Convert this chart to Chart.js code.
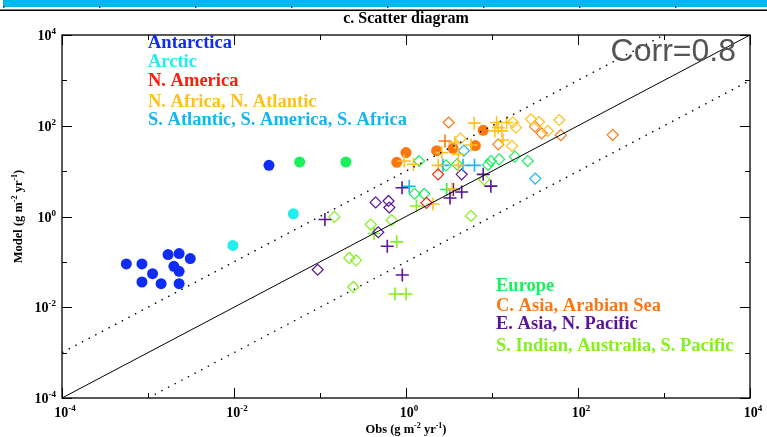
<!DOCTYPE html>
<html>
<head>
<meta charset="utf-8">
<script src="https://cdn.jsdelivr.net/npm/chart.js@4.4.1/dist/chart.umd.min.js"></script>
<style>
  html, body { margin: 0; padding: 0; background: #fff; }
  #wrap { position: relative; width: 767px; height: 437px; }
</style>
</head>
<body>
<div id="wrap"><canvas id="scatter" width="767" height="437"></canvas></div>
<script>
// each point: [obs, model, marker]   marker: o = filled circle, d = open diamond, p = plus
const antarctica = [
  [5.6e-4, 0.090, 'o'], [8.5e-4, 0.090, 'o'], [1.13e-3, 0.055, 'o'], [8.5e-4, 0.036, 'o'],
  [1.42e-3, 0.033, 'o'], [1.71e-3, 0.145, 'o'], [2.3e-3, 0.152, 'o'], [3.1e-3, 0.118, 'o'],
  [2.0e-3, 0.080, 'o'], [2.3e-3, 0.062, 'o'], [2.3e-3, 0.033, 'o'], [0.0255, 13.4, 'o']
];
const arctic = [[9.7e-3, 0.23, 'o'], [0.049, 1.15, 'o']];
const nAmerica = [[2.36, 8.5, 'd'], [1.73, 2.0, 'd']];
const nAfrica = [
  [4.3, 52, 'd'], [17.5, 119, 'd'], [19, 91, 'd'], [17.1, 36, 'd'], [28.4, 139, 'd'],
  [35.2, 121, 'd'], [44.4, 77, 'd'], [60.6, 134, 'd'],
  [6.2, 114, 'p'], [11.3, 118, 'p'], [11.8, 91, 'p'], [10.8, 77, 'p'], [13, 77, 'p'],
  [14.8, 118, 'p'], [13.4, 48.5, 'p'], [3.7, 42.5, 'p'], [5.7, 37.6, 'p'], [2.6, 25.6, 'p'],
  [4.06, 23.4, 'p'], [0.955, 16.7, 'p'], [1.22, 14.1, 'p'], [2.37, 13.4, 'p'], [4.06, 13.4, 'p'],
  [2.06, 1.89, 'p'], [3.43, 4.05, 'p']
];
const sAtlantic = [
  [4.7, 28.3, 'd'], [31.8, 6.85, 'd'],
  [1.09, 4.65, 'p'], [2.69, 13.4, 'p'], [4.6, 13.4, 'p'], [6.26, 13.4, 'p']
];
const europe = [
  [0.058, 15.9, 'o'], [0.2, 15.9, 'o'],
  [1.42, 16.7, 'd'], [2.92, 13.4, 'd'], [3.92, 14.1, 'd'], [9.0, 13.7, 'd'], [9.7, 16.7, 'd'],
  [12.1, 18.2, 'd'], [18.4, 20.9, 'd'], [26, 16.7, 'd'], [1.26, 3.17, 'd'], [1.63, 3.14, 'd'],
  [2.97, 3.95, 'p']
];
const cAsia = [
  [1.0, 25.6, 'o'], [0.78, 15.6, 'o'], [2.27, 28.3, 'o'], [3.52, 31.8, 'o'], [6.4, 36.5, 'o'],
  [7.9, 79.5, 'o'],
  [3.14, 118, 'd'], [11.8, 39, 'd'], [31.6, 96, 'd'], [37.8, 68, 'd'], [63, 62, 'd'], [253, 63, 'd'],
  [2.84, 46, 'p']
];
const eAsia = [
  [4.44, 8.5, 'd'], [0.444, 2.04, 'd'], [0.626, 2.2, 'd'], [0.64, 1.58, 'd'], [0.476, 0.45, 'd'],
  [0.094, 0.067, 'd'],
  [7.9, 8.5, 'p'], [9.7, 4.67, 'p'], [0.9, 4.31, 'p'], [3.55, 3.95, 'p'], [4.44, 3.48, 'p'],
  [3.25, 2.56, 'p'], [0.114, 0.86, 'p'], [0.606, 0.221, 'p'], [0.906, 0.0515, 'p']
];
const sIndian = [
  [8.1, 6.57, 'd'], [5.7, 1.03, 'd'], [0.147, 0.98, 'd'], [0.389, 0.665, 'd'], [0.682, 0.83, 'd'],
  [0.219, 0.122, 'd'], [0.262, 0.108, 'd'], [0.244, 0.028, 'd'],
  [1.32, 1.71, 'p'], [0.425, 0.421, 'p'], [0.78, 0.276, 'p'], [0.745, 0.0196, 'p'], [1.0, 0.0196, 'p']
];

const regionNames = ['Antarctica', 'Arctic', 'N. America', 'N. Africa, N. Atlantic',
  'S. Atlantic, S. America, S. Africa', 'Europe', 'C. Asia, Arabian Sea',
  'E. Asia, N. Pacific', 'S. Indian, Australia, S. Pacific'];
const regionColors = ['#0f2cf5', '#22eeee', '#f5200f', '#ffc21a', '#18b4f0',
  '#19f05a', '#fa7814', '#5a1496', '#84f01e'];
const regionPoints = [antarctica, arctic, nAmerica, nAfrica, sAtlantic, europe, cAsia, eAsia, sIndian];

// reference lines 1:1 and factor 10
const oneToOne = [[1e-4, 1e-4], [1e4, 1e4]];
const tenAbove = [[1e-4, 1e-3], [1e3, 1e4]];
const tenBelow = [[1e-3, 1e-4], [1e4, 1e3]];

const majorExp = [-4, -2, 0, 2, 4];
const minorExp = [-3, -1, 1, 3];
const corrText = 'Corr=0.8';

const SERIF = '"Liberation Serif", "Times New Roman", serif';
const styleOf = { o: 'circle', d: 'rectRot', p: 'cross' };
const radiusOf = { o: 5.5, d: 5.5, p: 6.5 };

const pointSets = regionPoints.map((pts, i) => ({
  type: 'scatter',
  label: regionNames[i],
  data: pts.map(p => ({ x: p[0], y: p[1] })),
  pointStyle: pts.map(p => styleOf[p[2]]),
  pointRadius: pts.map(p => radiusOf[p[2]]),
  pointBackgroundColor: pts.map(p => p[2] === 'o' ? regionColors[i] : 'rgba(0,0,0,0)'),
  pointBorderColor: regionColors[i],
  pointBorderWidth: pts.map(p => p[2] === 'p' ? 1.6 : (p[2] === 'o' ? 0 : 1.2)),
  showLine: false
}));

const lineSet = (pts, dash) => ({
  type: 'line',
  data: pts.map(p => ({ x: p[0], y: p[1] })),
  borderColor: '#000',
  borderWidth: dash.length ? 1.4 : 1,
  borderDash: dash,
  pointRadius: 0,
  fill: false
});

// superscript writer: parts = [[text, isSup], ...]
function drawParts(ctx, parts, x, y, size, align) {
  const big = `bold ${size}px ${SERIF}`;
  const small = `bold ${Math.round(size * 0.62)}px ${SERIF}`;
  let w = 0;
  parts.forEach(([t, sup]) => { ctx.font = sup ? small : big; w += ctx.measureText(t).width; });
  let cx = align === 'center' ? x - w / 2 : (align === 'right' ? x - w : x);
  ctx.textAlign = 'left';
  parts.forEach(([t, sup]) => {
    ctx.font = sup ? small : big;
    ctx.fillText(t, cx, sup ? y - size * 0.42 : y);
    cx += ctx.measureText(t).width;
  });
}

const decor = {
  id: 'decor',
  afterDraw(chart) {
    const { ctx, chartArea: a, scales: { x, y } } = chart;
    ctx.save();
    // strip left over from the panel above
    ctx.fillStyle = '#00b9f2';
    ctx.fillRect(3, 0, 764, 7);
    ctx.fillStyle = '#444';
    for (let i = 0; i < 8; i++) ctx.fillRect(3 + i * 96, 6, 1.5, 2);
    ctx.fillStyle = '#000';
    ctx.fillRect(0, 9.5, 767, 1.5);

    ctx.fillStyle = '#000';
    ctx.textBaseline = 'alphabetic';
    ctx.textAlign = 'center';
    ctx.font = `bold 16px ${SERIF}`;
    ctx.fillText('c. Scatter diagram', (a.left + a.right) / 2, 23);

    // frame
    ctx.strokeStyle = '#000';
    ctx.lineWidth = 1.3;
    ctx.strokeRect(a.left, a.top, a.right - a.left, a.bottom - a.top);

    // ticks on all four sides
    ctx.lineWidth = 1;
    ctx.beginPath();
    const tick = (e, len) => {
      const px = Math.round(x.getPixelForValue(10 ** e)) + 0.5;
      const py = Math.round(y.getPixelForValue(10 ** e)) + 0.5;
      ctx.moveTo(px, a.bottom); ctx.lineTo(px, a.bottom - len);
      ctx.moveTo(px, a.top); ctx.lineTo(px, a.top + len);
      ctx.moveTo(a.left, py); ctx.lineTo(a.left + len, py);
      ctx.moveTo(a.right, py); ctx.lineTo(a.right - len, py);
    };
    majorExp.forEach(e => tick(e, 10));
    minorExp.forEach(e => tick(e, 5));
    ctx.stroke();

    // tick labels
    majorExp.forEach(e => {
      const parts = [['10', false], [String(e), true]];
      drawParts(ctx, parts, x.getPixelForValue(10 ** e) + 3, a.bottom + 19, 14, 'center');
      drawParts(ctx, parts, a.left - 6, y.getPixelForValue(10 ** e) + 5, 14, 'right');
    });

    // axis titles
    drawParts(ctx, [['Obs (g m', false], ['-2', true], [' yr', false], ['-1', true], [')', false]],
      (a.left + a.right) / 2, 433, 12.5, 'center');
    ctx.save();
    ctx.translate(22, (a.top + a.bottom) / 2);
    ctx.rotate(-Math.PI / 2);
    drawParts(ctx, [['Model (g m', false], ['-2', true], [' yr', false], ['-1', true], [')', false]],
      0, 0, 12.5, 'center');
    ctx.restore();

    // region labels
    ctx.textAlign = 'left';
    ctx.font = `bold 18.5px ${SERIF}`;
    const topRows = [48, 67, 86, 107, 125];
    const lowRows = [291, 311, 329, 351];
    regionNames.forEach((name, i) => {
      ctx.fillStyle = regionColors[i];
      if (i < 5) ctx.fillText(name, 148, topRows[i]);
      else ctx.fillText(name, 496, lowRows[i - 5]);
    });

    ctx.fillStyle = '#555';
    ctx.textAlign = 'right';
    ctx.font = `32px "Liberation Sans", Arial, sans-serif`;
    ctx.fillText(corrText, 736, 61);
    ctx.restore();
  }
};

new Chart(document.getElementById('scatter'), {
  type: 'scatter',
  data: {
    datasets: [
      lineSet(oneToOne, []),
      lineSet(tenAbove, [1.5, 6]),
      lineSet(tenBelow, [1.5, 6]),
      ...pointSets
    ]
  },
  options: {
    responsive: false,
    animation: false,
    devicePixelRatio: 1,
    layout: { padding: { left: 62, right: 17, top: 35, bottom: 39 } },
    plugins: { legend: { display: false }, tooltip: { enabled: false } },
    scales: {
      x: { type: 'logarithmic', min: 1e-4, max: 1e4, display: false },
      y: { type: 'logarithmic', min: 1e-4, max: 1e4, display: false }
    }
  },
  plugins: [decor]
});
</script>
</body>
</html>
